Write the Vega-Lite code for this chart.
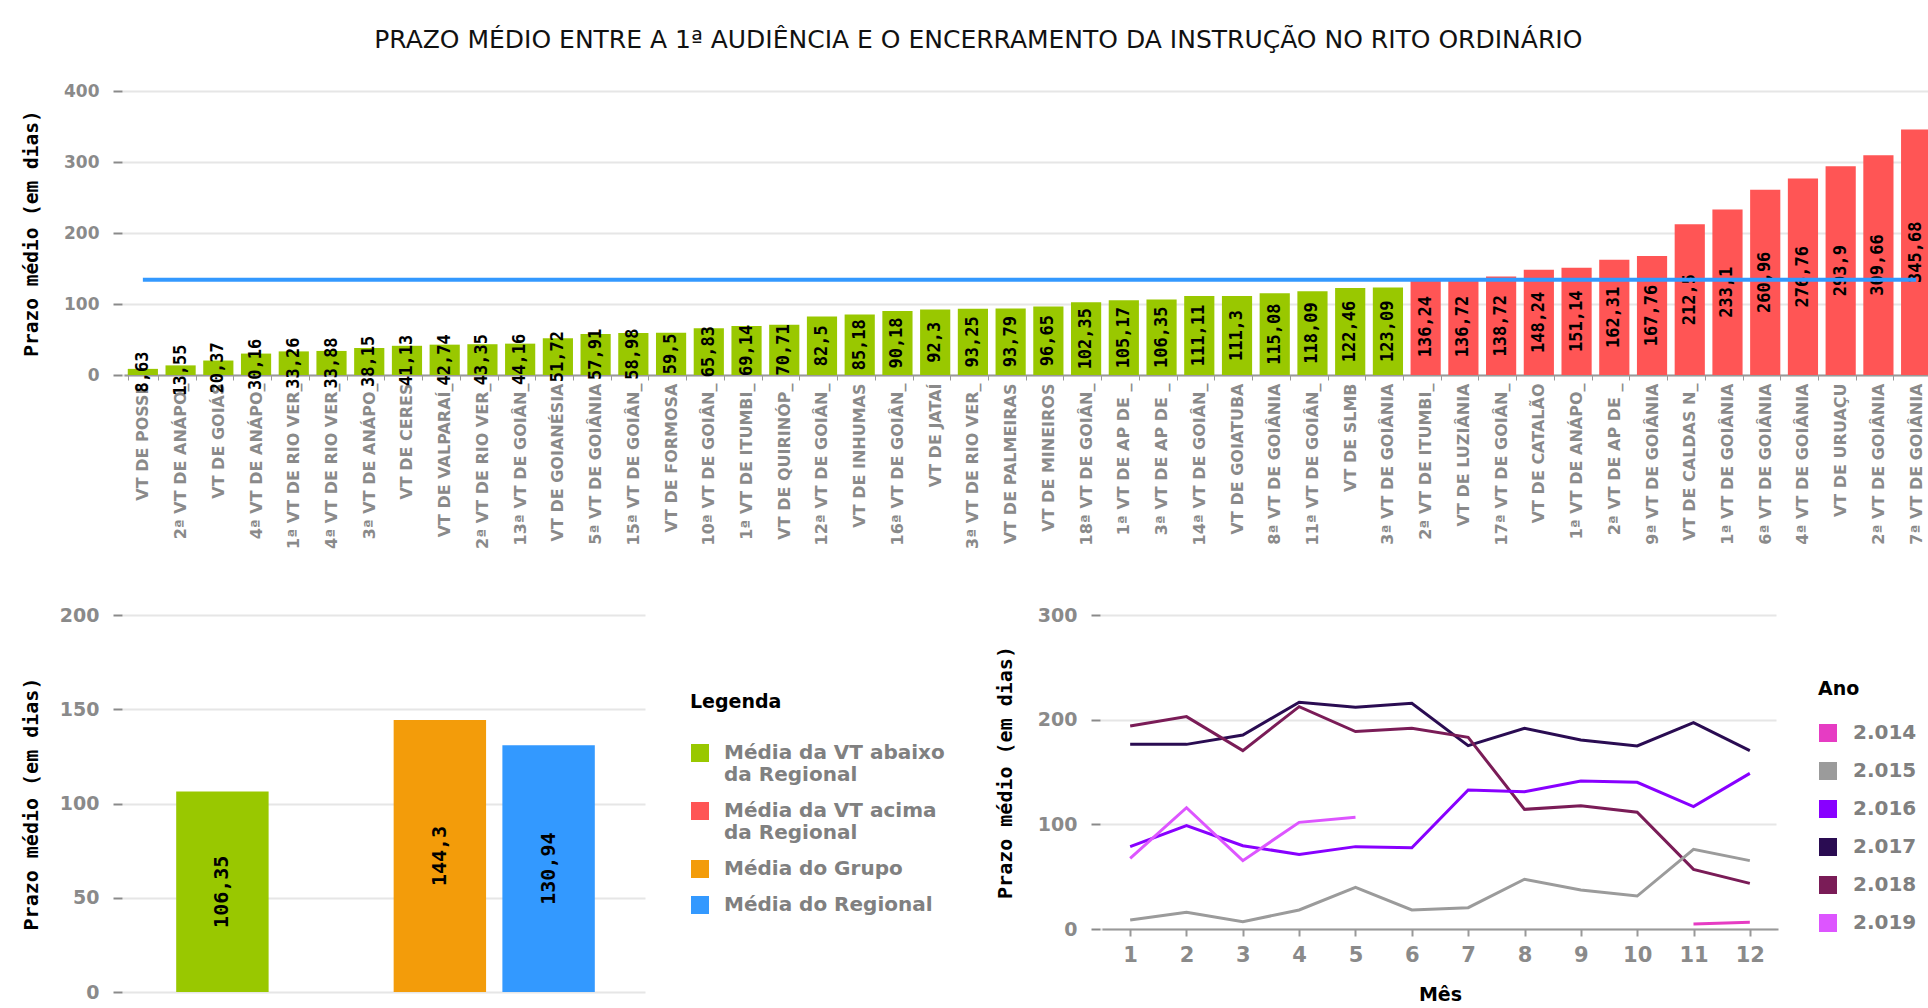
{
  "$schema": "https://vega.github.io/schema/vega-lite/v6.json",
  "background": "white",
  "padding": {"left": 21, "top": 28, "right": 0, "bottom": 0},
  "config": {
    "font": "DejaVu Sans",
    "view": {"stroke": null},
    "locale": {"number": {"decimal": ",", "thousands": ".", "grouping": [3], "currency": ["R$", ""]}},
    "axis": {
      "labelFont": "DejaVu Sans", "labelFontWeight": "bold", "labelColor": "#8a8a8a",
      "titleFont": "DejaVu Sans Mono", "titleFontWeight": "bold", "titleColor": "#000000",
      "gridColor": "#e6e6e6", "gridWidth": 2, "tickColor": "#8a8a8a"
    },
    "axisY": {"domain": false, "tickSize": 9, "tickWidth": 2, "offset": 2, "labelPadding": 14, "titlePadding": 22, "grid": true},
    "axisX": {"grid": false, "domainColor": "#999999", "domainWidth": 2, "tickColor": "#999999"},
    "legend": {"padding": 0}
  },
  "spacing": 57,
  "resolve": {"scale": {"color": "independent"}, "legend": {"color": "independent"}},
  "vconcat": [
    {
      "title": {"text": "PRAZO MÉDIO ENTRE A 1ª AUDIÊNCIA E O ENCERRAMENTO DA INSTRUÇÃO NO RITO ORDINÁRIO", "font": "DejaVu Sans", "fontSize": 25, "fontWeight": "normal", "color": "#111111", "offset": 29, "frame": "bounds", "anchor": "middle"},
      "width": 1811,
      "height": 284,
      "data": {"values": [
        {"vara": "VT DE POSSE", "prazo": 8.63, "situacao": "Média da VT abaixo da Regional"},
        {"vara": "2ª VT DE ANÁPO_", "prazo": 13.55, "situacao": "Média da VT abaixo da Regional"},
        {"vara": "VT DE GOIÁS", "prazo": 20.37, "situacao": "Média da VT abaixo da Regional"},
        {"vara": "4ª VT DE ANÁPO_", "prazo": 30.16, "situacao": "Média da VT abaixo da Regional"},
        {"vara": "1ª VT DE RIO VER_", "prazo": 33.26, "situacao": "Média da VT abaixo da Regional"},
        {"vara": "4ª VT DE RIO VER_", "prazo": 33.88, "situacao": "Média da VT abaixo da Regional"},
        {"vara": "3ª VT DE ANÁPO_", "prazo": 38.15, "situacao": "Média da VT abaixo da Regional"},
        {"vara": "VT DE CERES", "prazo": 41.13, "situacao": "Média da VT abaixo da Regional"},
        {"vara": "VT DE VALPARAÍ_", "prazo": 42.74, "situacao": "Média da VT abaixo da Regional"},
        {"vara": "2ª VT DE RIO VER_", "prazo": 43.35, "situacao": "Média da VT abaixo da Regional"},
        {"vara": "13ª VT DE GOIÂN_", "prazo": 44.16, "situacao": "Média da VT abaixo da Regional"},
        {"vara": "VT DE GOIANÉSIA", "prazo": 51.72, "situacao": "Média da VT abaixo da Regional"},
        {"vara": "5ª VT DE GOIÂNIA", "prazo": 57.91, "situacao": "Média da VT abaixo da Regional"},
        {"vara": "15ª VT DE GOIÂN_", "prazo": 58.98, "situacao": "Média da VT abaixo da Regional"},
        {"vara": "VT DE FORMOSA", "prazo": 59.5, "situacao": "Média da VT abaixo da Regional"},
        {"vara": "10ª VT DE GOIÂN_", "prazo": 65.83, "situacao": "Média da VT abaixo da Regional"},
        {"vara": "1ª VT DE ITUMBI_", "prazo": 69.14, "situacao": "Média da VT abaixo da Regional"},
        {"vara": "VT DE QUIRINÓP_", "prazo": 70.71, "situacao": "Média da VT abaixo da Regional"},
        {"vara": "12ª VT DE GOIÂN_", "prazo": 82.5, "situacao": "Média da VT abaixo da Regional"},
        {"vara": "VT DE INHUMAS", "prazo": 85.18, "situacao": "Média da VT abaixo da Regional"},
        {"vara": "16ª VT DE GOIÂN_", "prazo": 90.18, "situacao": "Média da VT abaixo da Regional"},
        {"vara": "VT DE JATAÍ", "prazo": 92.3, "situacao": "Média da VT abaixo da Regional"},
        {"vara": "3ª VT DE RIO VER_", "prazo": 93.25, "situacao": "Média da VT abaixo da Regional"},
        {"vara": "VT DE PALMEIRAS", "prazo": 93.79, "situacao": "Média da VT abaixo da Regional"},
        {"vara": "VT DE MINEIROS", "prazo": 96.65, "situacao": "Média da VT abaixo da Regional"},
        {"vara": "18ª VT DE GOIÂN_", "prazo": 102.35, "situacao": "Média da VT abaixo da Regional"},
        {"vara": "1ª VT DE AP DE _", "prazo": 105.17, "situacao": "Média da VT abaixo da Regional"},
        {"vara": "3ª VT DE AP DE _", "prazo": 106.35, "situacao": "Média da VT abaixo da Regional"},
        {"vara": "14ª VT DE GOIÂN_", "prazo": 111.11, "situacao": "Média da VT abaixo da Regional"},
        {"vara": "VT DE GOIATUBA", "prazo": 111.3, "situacao": "Média da VT abaixo da Regional"},
        {"vara": "8ª VT DE GOIÂNIA", "prazo": 115.08, "situacao": "Média da VT abaixo da Regional"},
        {"vara": "11ª VT DE GOIÂN_", "prazo": 118.09, "situacao": "Média da VT abaixo da Regional"},
        {"vara": "VT DE SLMB", "prazo": 122.46, "situacao": "Média da VT abaixo da Regional"},
        {"vara": "3ª VT DE GOIÂNIA", "prazo": 123.09, "situacao": "Média da VT abaixo da Regional"},
        {"vara": "2ª VT DE ITUMBI_", "prazo": 136.24, "situacao": "Média da VT acima da Regional"},
        {"vara": "VT DE LUZIÂNIA", "prazo": 136.72, "situacao": "Média da VT acima da Regional"},
        {"vara": "17ª VT DE GOIÂN_", "prazo": 138.72, "situacao": "Média da VT acima da Regional"},
        {"vara": "VT DE CATALÃO", "prazo": 148.24, "situacao": "Média da VT acima da Regional"},
        {"vara": "1ª VT DE ANÁPO_", "prazo": 151.14, "situacao": "Média da VT acima da Regional"},
        {"vara": "2ª VT DE AP DE _", "prazo": 162.31, "situacao": "Média da VT acima da Regional"},
        {"vara": "9ª VT DE GOIÂNIA", "prazo": 167.76, "situacao": "Média da VT acima da Regional"},
        {"vara": "VT DE CALDAS N_", "prazo": 212.5, "situacao": "Média da VT acima da Regional"},
        {"vara": "1ª VT DE GOIÂNIA", "prazo": 233.1, "situacao": "Média da VT acima da Regional"},
        {"vara": "6ª VT DE GOIÂNIA", "prazo": 260.96, "situacao": "Média da VT acima da Regional"},
        {"vara": "4ª VT DE GOIÂNIA", "prazo": 276.76, "situacao": "Média da VT acima da Regional"},
        {"vara": "VT DE URUAÇU", "prazo": 293.9, "situacao": "Média da VT acima da Regional"},
        {"vara": "2ª VT DE GOIÂNIA", "prazo": 309.66, "situacao": "Média da VT acima da Regional"},
        {"vara": "7ª VT DE GOIÂNIA", "prazo": 345.68, "situacao": "Média da VT acima da Regional"}
      ]},
      "resolve": {"scale": {"y": "independent"}},
      "layer": [
        {
          "mark": {"type": "bar"},
          "encoding": {
            "x": {"field": "vara", "type": "nominal", "sort": null,
                  "scale": {"paddingInner": 0.2, "paddingOuter": 0.1},
                  "axis": {"title": null, "labelAngle": -90, "labelFontSize": 16, "labelLimit": 400, "labelPadding": 3, "tickSize": 5, "tickWidth": 1, "tickBand": "extent"}},
            "y": {"field": "prazo", "type": "quantitative", "scale": {"domain": [0, 400]},
                  "axis": {"title": "Prazo médio (em dias)", "titleFontSize": 19.5, "titlePadding": 22, "values": [0, 100, 200, 300, 400], "labelFontSize": 17}},
            "color": {"field": "situacao", "type": "nominal",
                      "scale": {"domain": ["Média da VT abaixo da Regional", "Média da VT acima da Regional", "Média do Grupo", "Média do Regional"],
                                "range": ["#99c800", "#ff5555", "#f39c0a", "#3399ff"]},
                      "legend": null}
          }
        },
        {
          "mark": {"type": "text", "angle": 270, "font": "DejaVu Sans Mono", "fontWeight": "bold", "fontSize": 17, "color": "#000000", "align": "center", "baseline": "middle"},
          "encoding": {
            "x": {"field": "vara", "type": "nominal", "sort": null},
            "y": {"field": "prazo", "type": "quantitative", "scale": {"domain": [0, 800]}, "axis": null},
            "text": {"field": "prazo", "type": "quantitative", "format": ".2~f"}
          }
        },
        {
          "mark": {"type": "line", "color": "#3399ff", "strokeWidth": 4},
          "encoding": {
            "x": {"field": "vara", "type": "nominal", "sort": null},
            "y": {"datum": 134, "type": "quantitative", "scale": {"domain": [0, 400]}, "axis": null}
          }
        }
      ]
    },
    {
      "hconcat": [
        {
          "width": 523,
          "height": 377,
          "data": {"values": [
            {"indicador": "Média da VT abaixo da Regional", "prazo": 106.35},
            {"indicador": "Média do Grupo", "prazo": 144.3},
            {"indicador": "Média do Regional", "prazo": 130.94}
          ]},
          "resolve": {"scale": {"y": "independent"}},
          "layer": [
            {
              "mark": {"type": "bar"},
              "encoding": {
                "x": {"field": "indicador", "type": "nominal",
                      "scale": {"domain": ["Média da VT abaixo da Regional", "Média da VT acima da Regional", "Média do Grupo", "Média do Regional"], "paddingInner": 0.15, "paddingOuter": 0.48},
                      "axis": null},
                "y": {"field": "prazo", "type": "quantitative", "scale": {"domain": [0, 200]},
                      "axis": {"title": "Prazo médio (em dias)", "titleFontSize": 20, "titlePadding": 18, "values": [0, 50, 100, 150, 200], "labelFontSize": 19}},
                "color": {"field": "indicador", "type": "nominal",
                          "scale": {"domain": ["Média da VT abaixo da Regional", "Média da VT acima da Regional", "Média do Grupo", "Média do Regional"],
                                    "range": ["#99c800", "#ff5555", "#f39c0a", "#3399ff"]},
                          "legend": {"title": "Legenda", "orient": "none", "legendX": 566, "legendY": 78,
                                     "symbolType": "square", "symbolSize": 324, "symbolStrokeWidth": 0, "symbolOpacity": 1,
                                     "labelExpr": "datum.label == 'Média da VT abaixo da Regional' ? ['Média da VT abaixo', 'da Regional'] : datum.label == 'Média da VT acima da Regional' ? ['Média da VT acima', 'da Regional'] : datum.label",
                                     "labelFont": "DejaVu Sans", "labelFontSize": 20, "labelFontWeight": "bold", "labelColor": "#808080", "labelLimit": 400, "labelOffset": 14,
                                     "titleFont": "DejaVu Sans", "titleFontSize": 19, "titleFontWeight": "bold", "titleColor": "#000000", "titlePadding": 31, "rowPadding": 16}}
              }
            },
            {
              "mark": {"type": "text", "angle": 270, "font": "DejaVu Sans Mono", "fontWeight": "bold", "fontSize": 20, "color": "#000000", "align": "center", "baseline": "middle"},
              "encoding": {
                "x": {"field": "indicador", "type": "nominal"},
                "y": {"field": "prazo", "type": "quantitative", "scale": {"domain": [0, 400]}, "axis": null},
                "text": {"field": "prazo", "type": "quantitative", "format": ".2~f"}
              }
            }
          ]
        },
        {
          "width": 676,
          "height": 314,
          "data": {"values": [
            {"mes": 1, "ano": "2.017", "prazo": 176.4}, {"mes": 2, "ano": "2.017", "prazo": 176.4}, {"mes": 3, "ano": "2.017", "prazo": 185.4},
            {"mes": 4, "ano": "2.017", "prazo": 216.6}, {"mes": 5, "ano": "2.017", "prazo": 211.8}, {"mes": 6, "ano": "2.017", "prazo": 215.6},
            {"mes": 7, "ano": "2.017", "prazo": 175.2}, {"mes": 8, "ano": "2.017", "prazo": 191.7}, {"mes": 9, "ano": "2.017", "prazo": 180.6},
            {"mes": 10, "ano": "2.017", "prazo": 174.9}, {"mes": 11, "ano": "2.017", "prazo": 197.2}, {"mes": 12, "ano": "2.017", "prazo": 170.4},
            {"mes": 1, "ano": "2.018", "prazo": 194.0}, {"mes": 2, "ano": "2.018", "prazo": 202.9}, {"mes": 3, "ano": "2.018", "prazo": 170.4},
            {"mes": 4, "ano": "2.018", "prazo": 212.4}, {"mes": 5, "ano": "2.018", "prazo": 188.6}, {"mes": 6, "ano": "2.018", "prazo": 191.7},
            {"mes": 7, "ano": "2.018", "prazo": 183.1}, {"mes": 8, "ano": "2.018", "prazo": 114.3}, {"mes": 9, "ano": "2.018", "prazo": 117.8},
            {"mes": 10, "ano": "2.018", "prazo": 111.5}, {"mes": 11, "ano": "2.018", "prazo": 57.0}, {"mes": 12, "ano": "2.018", "prazo": 43.6},
            {"mes": 1, "ano": "2.016", "prazo": 78.7}, {"mes": 2, "ano": "2.016", "prazo": 98.7}, {"mes": 3, "ano": "2.016", "prazo": 79.6},
            {"mes": 4, "ano": "2.016", "prazo": 71.3}, {"mes": 5, "ano": "2.016", "prazo": 78.7}, {"mes": 6, "ano": "2.016", "prazo": 77.7},
            {"mes": 7, "ano": "2.016", "prazo": 132.8}, {"mes": 8, "ano": "2.016", "prazo": 131.2}, {"mes": 9, "ano": "2.016", "prazo": 141.4},
            {"mes": 10, "ano": "2.016", "prazo": 140.1}, {"mes": 11, "ano": "2.016", "prazo": 116.9}, {"mes": 12, "ano": "2.016", "prazo": 148.7},
            {"mes": 1, "ano": "2.015", "prazo": 8.6}, {"mes": 2, "ano": "2.015", "prazo": 15.9}, {"mes": 3, "ano": "2.015", "prazo": 7.0},
            {"mes": 4, "ano": "2.015", "prazo": 18.2}, {"mes": 5, "ano": "2.015", "prazo": 39.8}, {"mes": 6, "ano": "2.015", "prazo": 18.2},
            {"mes": 7, "ano": "2.015", "prazo": 20.4}, {"mes": 8, "ano": "2.015", "prazo": 47.5}, {"mes": 9, "ano": "2.015", "prazo": 37.3},
            {"mes": 10, "ano": "2.015", "prazo": 31.5}, {"mes": 11, "ano": "2.015", "prazo": 76.1}, {"mes": 12, "ano": "2.015", "prazo": 65.3},
            {"mes": 1, "ano": "2.019", "prazo": 67.5}, {"mes": 2, "ano": "2.019", "prazo": 115.9}, {"mes": 3, "ano": "2.019", "prazo": 65.3},
            {"mes": 4, "ano": "2.019", "prazo": 101.9}, {"mes": 5, "ano": "2.019", "prazo": 106.7},
            {"mes": 11, "ano": "2.014", "prazo": 4.8}, {"mes": 12, "ano": "2.014", "prazo": 6.4}
          ]},
          "mark": {"type": "line", "strokeWidth": 3},
          "encoding": {
            "x": {"field": "mes", "type": "ordinal", "scale": {"type": "point", "padding": 0.5},
                  "axis": {"title": "Mês", "titleFont": "DejaVu Sans", "titleFontSize": 19, "titlePadding": 20, "labelAngle": 0, "labelFontSize": 21, "labelPadding": 8, "tickSize": 7, "tickWidth": 2}},
            "y": {"field": "prazo", "type": "quantitative", "scale": {"domain": [0, 300]},
                  "axis": {"title": "Prazo médio (em dias)", "titleFontSize": 20, "titlePadding": 22, "values": [0, 100, 200, 300], "labelFontSize": 19}},
            "color": {"field": "ano", "type": "nominal",
                      "scale": {"domain": ["2.014", "2.015", "2.016", "2.017", "2.018", "2.019"],
                                "range": ["#e63cc3", "#9b9b9b", "#8800ff", "#2a0c52", "#7a1c57", "#dd55ff"]},
                      "legend": {"title": "Ano", "orient": "none", "legendX": 716, "legendY": 65,
                                 "symbolType": "square", "symbolSize": 81, "symbolStrokeWidth": 9,
                                 "labelFont": "DejaVu Sans", "labelFontSize": 20, "labelFontWeight": "bold", "labelColor": "#808080", "labelOffset": 15,
                                 "titleFont": "DejaVu Sans", "titleFontSize": 19, "titleFontWeight": "bold", "titleColor": "#000000", "titlePadding": 24, "rowPadding": -8}}
          }
        }
      ],
      "spacing": 50,
      "resolve": {"scale": {"color": "independent"}, "legend": {"color": "independent"}}
    }
  ]
}
